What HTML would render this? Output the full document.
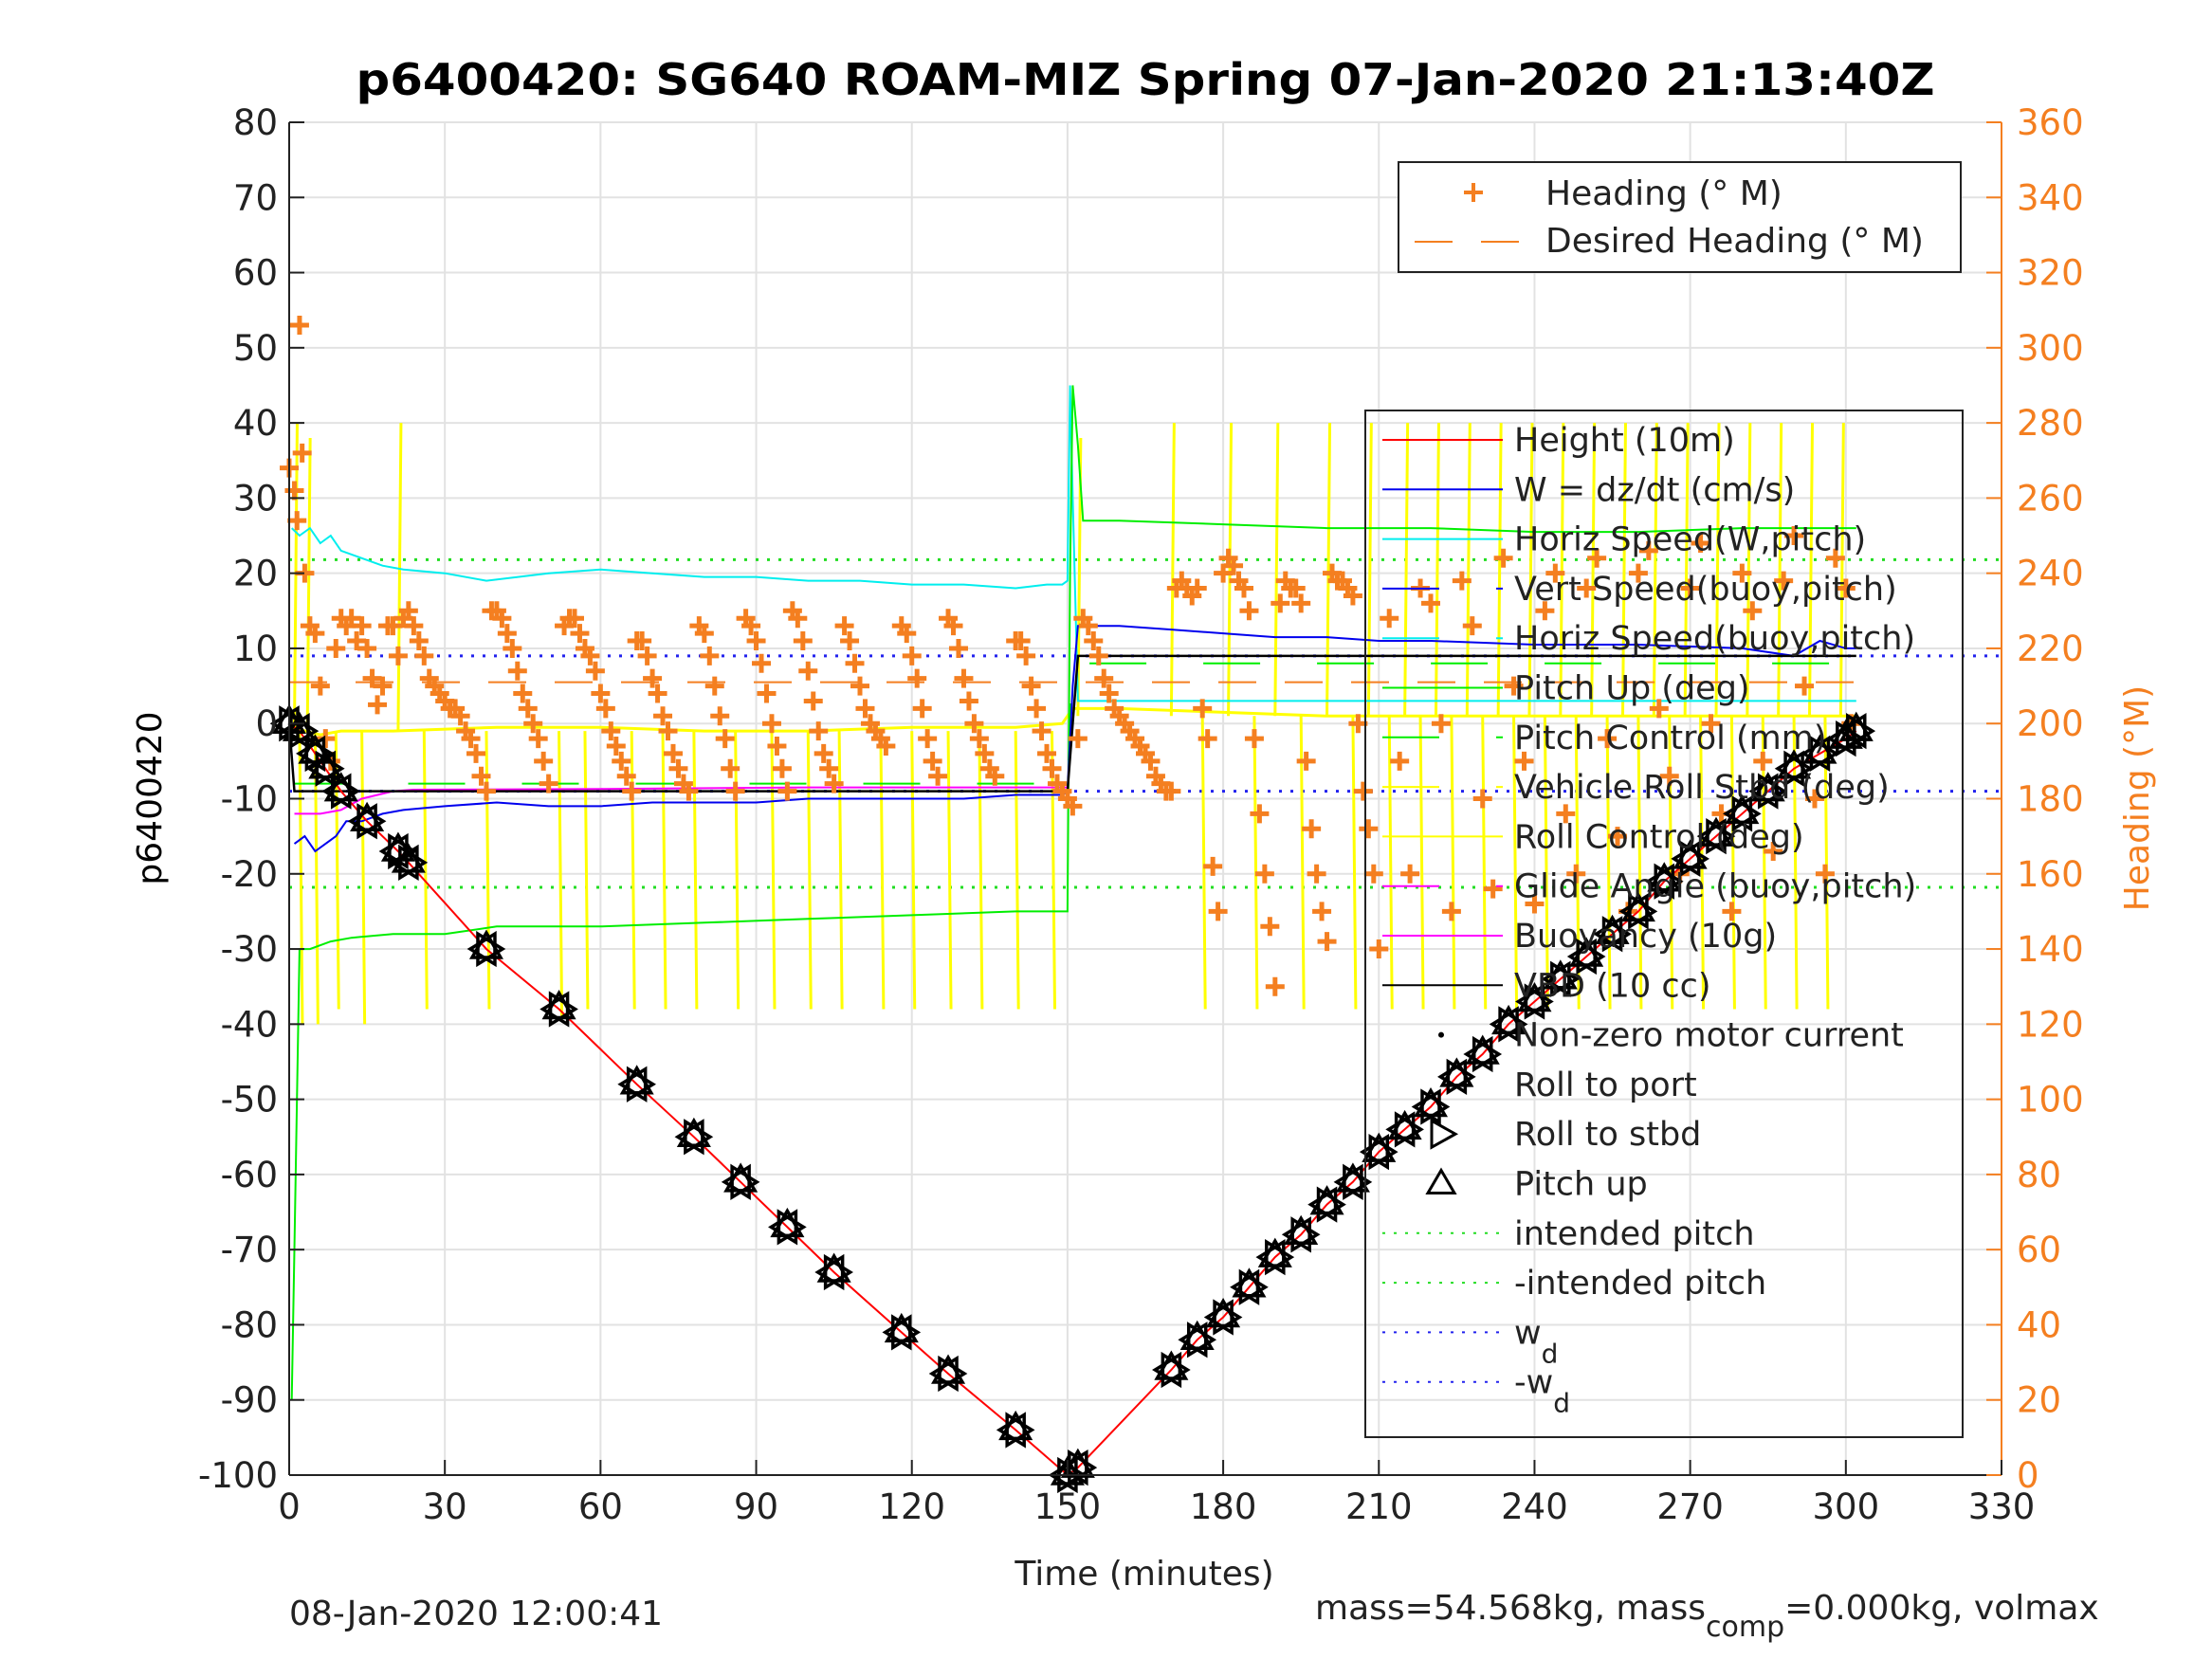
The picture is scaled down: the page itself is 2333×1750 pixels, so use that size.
<!DOCTYPE html>
<html><head><meta charset="utf-8"><style>
html,body{margin:0;padding:0;background:#fff;}
svg{display:block;font-family:"DejaVu Sans","Liberation Sans",sans-serif;}
</style></head><body>
<svg id="chart" width="2333" height="1750" viewBox="0 0 2333 1750">
<rect x="0" y="0" width="2333" height="1750" fill="#fff"/>
<g id="grid"></g>
<g id="series"></g>
<g id="axes"></g>
<text x="1208" y="100" font-size="46" font-weight="bold" text-anchor="middle" textLength="1665" lengthAdjust="spacingAndGlyphs">p6400420: SG640 ROAM-MIZ Spring 07-Jan-2020 21:13:40Z</text>
<text transform="translate(170,842) rotate(-90)" font-size="36" text-anchor="middle">p6400420</text>
<text transform="translate(2266,842) rotate(-90)" font-size="36" text-anchor="middle" fill="#f47f20">Heading (°M)</text>
<text x="1207" y="1672" font-size="36" text-anchor="middle" fill="#222">Time (minutes)</text>
<text x="305" y="1714" font-size="36" fill="#222">08-Jan-2020 12:00:41</text>
<text x="1387" y="1708" font-size="36" fill="#222">mass=54.568kg, mass<tspan font-size="30" dy="18">comp</tspan><tspan dy="-18">=0.000kg, volmax</tspan></text>
<g id="legend1"></g>
<g id="legend2"></g>
</svg>
<script>
// ---------- data ----------
const depthT = [0,2,5,7,10,15,21,23,38,52,67,78,87,96,105,118,127,140,150,152,170,175,180,185,190,195,200,205,210,215,220,225,230,235,240,245,250,255,260,265,270,275,280,285,290,295,300,302];
const depthV = [0,-1,-4,-6,-9,-13,-17,-18.5,-30,-38,-48,-55,-61,-67,-73,-81,-86.5,-94,-100,-99,-86,-82,-79,-75,-71,-68,-64,-61,-57,-54,-51,-47,-44,-40,-37,-34,-31,-28,-25,-21,-18,-15,-12,-9,-6,-4,-2,-1];
const cyanT = [0.5,2,4,6,8,10,14,18,22,30,38,50,60,70,80,90,100,110,120,130,140,146,149,150,150.5,151,152,155,302];
const cyanV = [26,25,26,24,25,23,22,21,20.5,20,19,20,20.5,20,19.5,19.5,19,19,18.5,18.5,18,18.5,18.5,19,45,30,3,3,3];
const blueT = [1,3,5,7,9,11,14,18,22,30,40,50,60,70,80,90,100,110,120,130,140,149,150,151,152,155,160,170,180,190,200,210,220,240,260,280,290,295,300,302];
const blueV = [-16,-15,-17,-16,-15,-13,-13,-12,-11.5,-11,-10.5,-11,-11,-10.5,-10.5,-10.5,-10,-10,-10,-10,-9.5,-9.5,-9,5,13,13,13,12.5,12,11.5,11.5,11,11,10.5,10.5,10,9,11,10,10];
const greenT = [0.5,1,2,4,8,12,20,30,40,60,80,100,120,140,150,150.5,151,152,153,160,180,200,220,240,260,280,300,302];
const greenV = [-90,-70,-30,-30,-29,-28.5,-28,-28,-27,-27,-26.5,-26,-25.5,-25,-25,20,45,37,27,27,26.5,26,26,25.5,25.5,26,26,26];
const pcT = [1,150,151,302];
const pcV = [-8,-8,8,8];
const vbdT = [0,1,2,150,152,302];
const vbdV = [0,-9,-9,-9,9,9];
const buoyT = [1,6,10,14,20,24,60,100,150];
const buoyV = [-12,-12,-11.5,-10,-9,-8.8,-8.7,-8.5,-8.5];
const rollT = [0,3,6,10,20,40,60,80,100,120,140,149,151,153,160,200,240,280,300,302];
const rollV = [0,-1,-1.5,-1,-1,-0.5,-0.5,-1,-1,-0.5,-0.5,0,2,2,2,1,1,1,1,1];
const spikeT = [1,2,3.5,5,9,14,21,26,38,52,57,66,72,78,86,93,100,106,114,120,127,133,140,147,152,170,176,181,186,190,195,200,205,208,212,215,218,221,224,227,230,233,236,239,242,245,248,251,254,257,260,263,266,269,272,275,278,281,284,287,290,293,296,299];
const spikeV = [40,-40,38,-40,-38,-40,40,-38,-38,-39,-38,-38,-38,-38,-38,-38,-38,-38,-38,-38,-38,-38,-38,-38,38,40,-38,40,-38,40,-38,40,-38,40,-38,40,-38,40,-38,40,-38,40,-38,40,-38,40,-38,40,-38,40,-38,40,-38,40,-38,40,-38,40,-38,40,-38,40,-38,40];
const headT = [0,1,1.5,2,2.5,3,4,5,6,7,8,9,10,11,12,13,14,15,16,17,18,19,20,21,22,23,24,25,26,27,28,29,30,31,32,33,34,35,36,37,38,39,40,41,42,43,44,45,46,47,48,49,50,53,54,55,56,57,58,59,60,61,62,63,64,65,66,67,68,69,70,71,72,73,74,75,76,77,79,80,81,82,83,84,85,86,88,89,90,91,92,93,94,95,96,97,98,99,100,101,102,103,104,105,107,108,109,110,111,112,113,114,115,118,119,120,121,122,123,124,125,127,128,129,130,131,132,133,134,135,136,140,141,142,143,144,145,146,147,148,149,150,151,152,153,154,155,156,157,158,159,160,161,162,163,164,165,166,167,168,169,170,171,172,173,174,175,176,177,178,179,180,181,182,183,184,185,186,187,188,189,190,191,192,193,194,195,196,197,198,199,200,201,202,203,204,205,206,207,208,209,210,212,214,216,218,220,222,224,226,228,230,232,234,236,238,240,242,244,246,248,250,252,254,256,258,260,262,264,266,268,270,272,274,276,278,280,282,284,286,288,290,292,294,296,298,300,301];
const headV = [268,262,254,306,272,240,226,224,210,196,190,220,228,226,228,222,226,220,212,205,210,226,226,218,228,230,226,222,218,212,210,208,206,204,204,202,198,196,192,186,182,230,230,228,224,220,214,208,204,200,196,190,184,226,228,228,224,220,218,214,208,204,198,194,190,186,182,222,222,218,212,208,202,198,192,188,184,182,226,224,218,210,202,196,188,182,228,226,222,216,208,200,194,188,182,230,228,222,214,206,198,192,188,184,226,222,216,210,204,200,198,196,194,226,224,218,212,204,196,190,186,228,226,220,212,206,200,196,192,188,186,222,222,218,210,204,198,192,188,184,182,180,178,196,228,226,222,218,212,208,204,202,200,198,196,194,192,190,186,184,182,182,236,238,236,234,236,204,196,162,150,240,244,242,238,236,230,196,176,160,146,130,232,238,236,236,232,190,172,160,150,142,240,238,238,236,234,200,182,172,160,140,228,190,160,236,232,200,150,238,226,180,156,244,210,190,152,230,240,176,160,236,244,196,170,150,240,246,204,186,160,236,248,200,176,150,240,230,190,166,238,250,210,180,160,244,236,200,170,226,214,200,190,220,210];
const desT = [0,150,151,302];
const desV = [211,211,211,211];
const markT = depthT;
const markV = depthV;
// ---------- scales ----------
const X0=305,X1=2111,YT=129,YB=1556;
function X(t){return X0+t*(X1-X0)/330;}
function Y(v){return YB-(v+100)*(YB-YT)/180;}
function YH(h){return YB-h*(YB-YT)/360;}
const NS="http://www.w3.org/2000/svg";
function el(tag,attrs,parent){const e=document.createElementNS(NS,tag);for(const k in attrs)e.setAttribute(k,attrs[k]);parent.appendChild(e);return e;}
const grid=document.getElementById('grid'),ser=document.getElementById('series'),ax=document.getElementById('axes');
for(let t=0;t<=330;t+=30){const g=el('line',{x1:X(t),x2:X(t),y1:YT,y2:YB,stroke:'#e2e2e2','stroke-width':2},grid);

}
for(let v=-100;v<=80;v+=10){const g=el('line',{x1:X0,x2:X1,y1:Y(v),y2:Y(v),stroke:'#e2e2e2','stroke-width':2},grid);

}
function poly(T,V,color,name,extra,yf){const pts=T.map((t,i)=>X(t).toFixed(1)+','+(yf?yf(V[i]):Y(V[i])).toFixed(1)).join(' ');
const p=el('polyline',Object.assign({points:pts,fill:'none',stroke:color,'stroke-width':2},extra||{}),ser);

return p;}
[[21.8,'#22dd22','intended-pitch-line'],[-21.8,'#22dd22','neg-intended-pitch-line'],[9,'#2222ee','wd-line'],[-9,'#2222ee','neg-wd-line']].forEach(r=>{
const l=el('line',{x1:X0,x2:X1,y1:Y(r[0]),y2:Y(r[0]),stroke:r[1],'stroke-width':3,'stroke-dasharray':'3 9'},ser);

});
spikeT.forEach((t,i)=>{const l=el('line',{x1:X(t),x2:X(t)+3,y1:Y(t<150?-1:1),y2:Y(spikeV[i]),stroke:'#ffff00','stroke-width':3},ser);

});
poly(rollT,rollV,'#ffff00','roll-control-line',{'stroke-width':3});
poly(cyanT,cyanV,'#00eeee','horiz-speed-line');
poly(greenT,greenV,'#00ee00','pitch-up-line');
poly(pcT,pcV,'#00ee00','pitch-control-line',{'stroke-dasharray':'60 60'});
poly(blueT,blueV,'#0000ee','w-dzdt-line');
poly(buoyT,buoyV,'#ff00ff','buoyancy-line');
poly(vbdT,vbdV,'#000','vbd-line',{'stroke-width':2.5});
poly(desT,desV,'#f47f20','desired-heading-line',{'stroke-dasharray':'40 30'},YH);
headT.forEach((t,i)=>{const x=X(t),y=YH(headV[i]);
const p=el('path',{d:`M${x-10} ${y}H${x+10}M${x} ${y-10}V${y+10}`,stroke:'#f47f20','stroke-width':5},ser);

});
poly(depthT,depthV,'#ff0000','height-line');
markT.forEach((t,i)=>{const x=X(t),y=Y(markV[i]);
const a=el('path',{d:`M${x} ${y-17}L${x+15} ${y+9}L${x-15} ${y+9}Z`,fill:'none',stroke:'#000','stroke-width':3.5},ser);


const b=el('path',{d:`M${x-9} ${y-16}L${x+17} ${y}L${x-9} ${y+16}Z`,fill:'none',stroke:'#000','stroke-width':3.5},ser);


const c=el('path',{d:`M${x+9} ${y-16}L${x-17} ${y}L${x+9} ${y+16}Z`,fill:'none',stroke:'#000','stroke-width':3.5},ser);

});
const lA=el('line',{x1:X0,x2:X0,y1:YT,y2:YB,stroke:'#222','stroke-width':2},ax);


const bA=el('line',{x1:X0,x2:X1,y1:YB,y2:YB,stroke:'#222','stroke-width':2},ax);


const rA=el('line',{x1:X1,x2:X1,y1:YT,y2:YB,stroke:'#f47f20','stroke-width':2},ax);


for(let v=-100;v<=80;v+=10){el('line',{x1:X0,x2:X0+16,y1:Y(v),y2:Y(v),stroke:'#222','stroke-width':2},ax);
const tx=el('text',{x:X0-12,y:Y(v)+13,'font-size':37,'text-anchor':'end',fill:'#222'},ax);tx.textContent=v;

}
for(let h=0;h<=360;h+=20){el('line',{x1:X1-16,x2:X1,y1:YH(h),y2:YH(h),stroke:'#f47f20','stroke-width':2},ax);
const tx=el('text',{x:X1+16,y:YH(h)+13,'font-size':37,fill:'#f47f20'},ax);tx.textContent=h;

}
for(let t=0;t<=330;t+=30){el('line',{x1:X(t),x2:X(t),y1:YB-16,y2:YB,stroke:'#222','stroke-width':2},ax);
const tx=el('text',{x:X(t),y:YB+46,'font-size':37,'text-anchor':'middle',fill:'#222'},ax);tx.textContent=t;

}
const L1=document.getElementById('legend1');
el('rect',{x:1475,y:171,width:593,height:116,fill:'#fff',stroke:'#222','stroke-width':2},L1);
el('path',{d:'M1544 203H1564M1554 193V213',stroke:'#f47f20','stroke-width':4},L1);
el('line',{x1:1492,x2:1602,y1:255,y2:255,stroke:'#f47f20','stroke-width':2,'stroke-dasharray':'40 30'},L1);
const h1=el('text',{x:1630,y:216,'font-size':36,fill:'#222'},L1);h1.textContent='Heading (° M)';


const h2=el('text',{x:1630,y:266,'font-size':36,fill:'#222'},L1);h2.textContent='Desired Heading (° M)';


const L2=document.getElementById('legend2');
el('rect',{x:1440,y:433,width:630,height:1083,fill:'none',stroke:'#222','stroke-width':2},L2);
const entries=[['Height (10m)','#ff0000',''],['W = dz/dt (cm/s)','#0000ee',''],['Horiz Speed(W,pitch)','#00eeee',''],['Vert Speed(buoy,pitch)','#0000ee','60 60'],['Horiz Speed(buoy,pitch)','#00eeee','60 60'],['Pitch Up (deg)','#00ee00',''],['Pitch Control (mm)','#00ee00','60 60'],['Vehicle Roll Stbd (deg)','#ffff00','60 60'],['Roll Control (deg)','#ffff00',''],['Glide Angle (buoy,pitch)','#ff00ff','60 60'],['Buoyancy (10g)','#ff00ff',''],['VBD (10 cc)','#000',''],['Non-zero motor current','dot',''],['Roll to port','none',''],['Roll to stbd','rs',''],['Pitch up','pu',''],['intended pitch','#22dd22','3 9'],['-intended pitch','#22dd22','3 9'],['w','#2222ee','3 9'],['-w','#2222ee','3 9']];
entries.forEach((e,i)=>{const y=464+i*52.3;
if(e[1]==='dot')el('circle',{cx:1520,cy:y,r:3,fill:'#000'},L2);
else if(e[1]==='rs')el('path',{d:'M1510 '+(y-14)+'L1535 '+y+'L1510 '+(y+14)+'Z',fill:'none',stroke:'#000','stroke-width':3},L2);
else if(e[1]==='pu')el('path',{d:'M1520 '+(y-14)+'L1534 '+(y+10)+'L1506 '+(y+10)+'Z',fill:'none',stroke:'#000','stroke-width':3},L2);
else if(e[1]!=='none'){const a={x1:1458,x2:1585,y1:y,y2:y,stroke:e[1],'stroke-width':2};if(e[2])a['stroke-dasharray']=e[2];el('line',a,L2);}
const tx=el('text',{x:1597,y:y+12,'font-size':35,fill:'#222'},L2);tx.textContent=e[0];
if(e[0]==='w'||e[0]==='-w'){const s=el('tspan',{'font-size':28,dy:20},tx);s.textContent='d';}

});
</script>
</body></html>
